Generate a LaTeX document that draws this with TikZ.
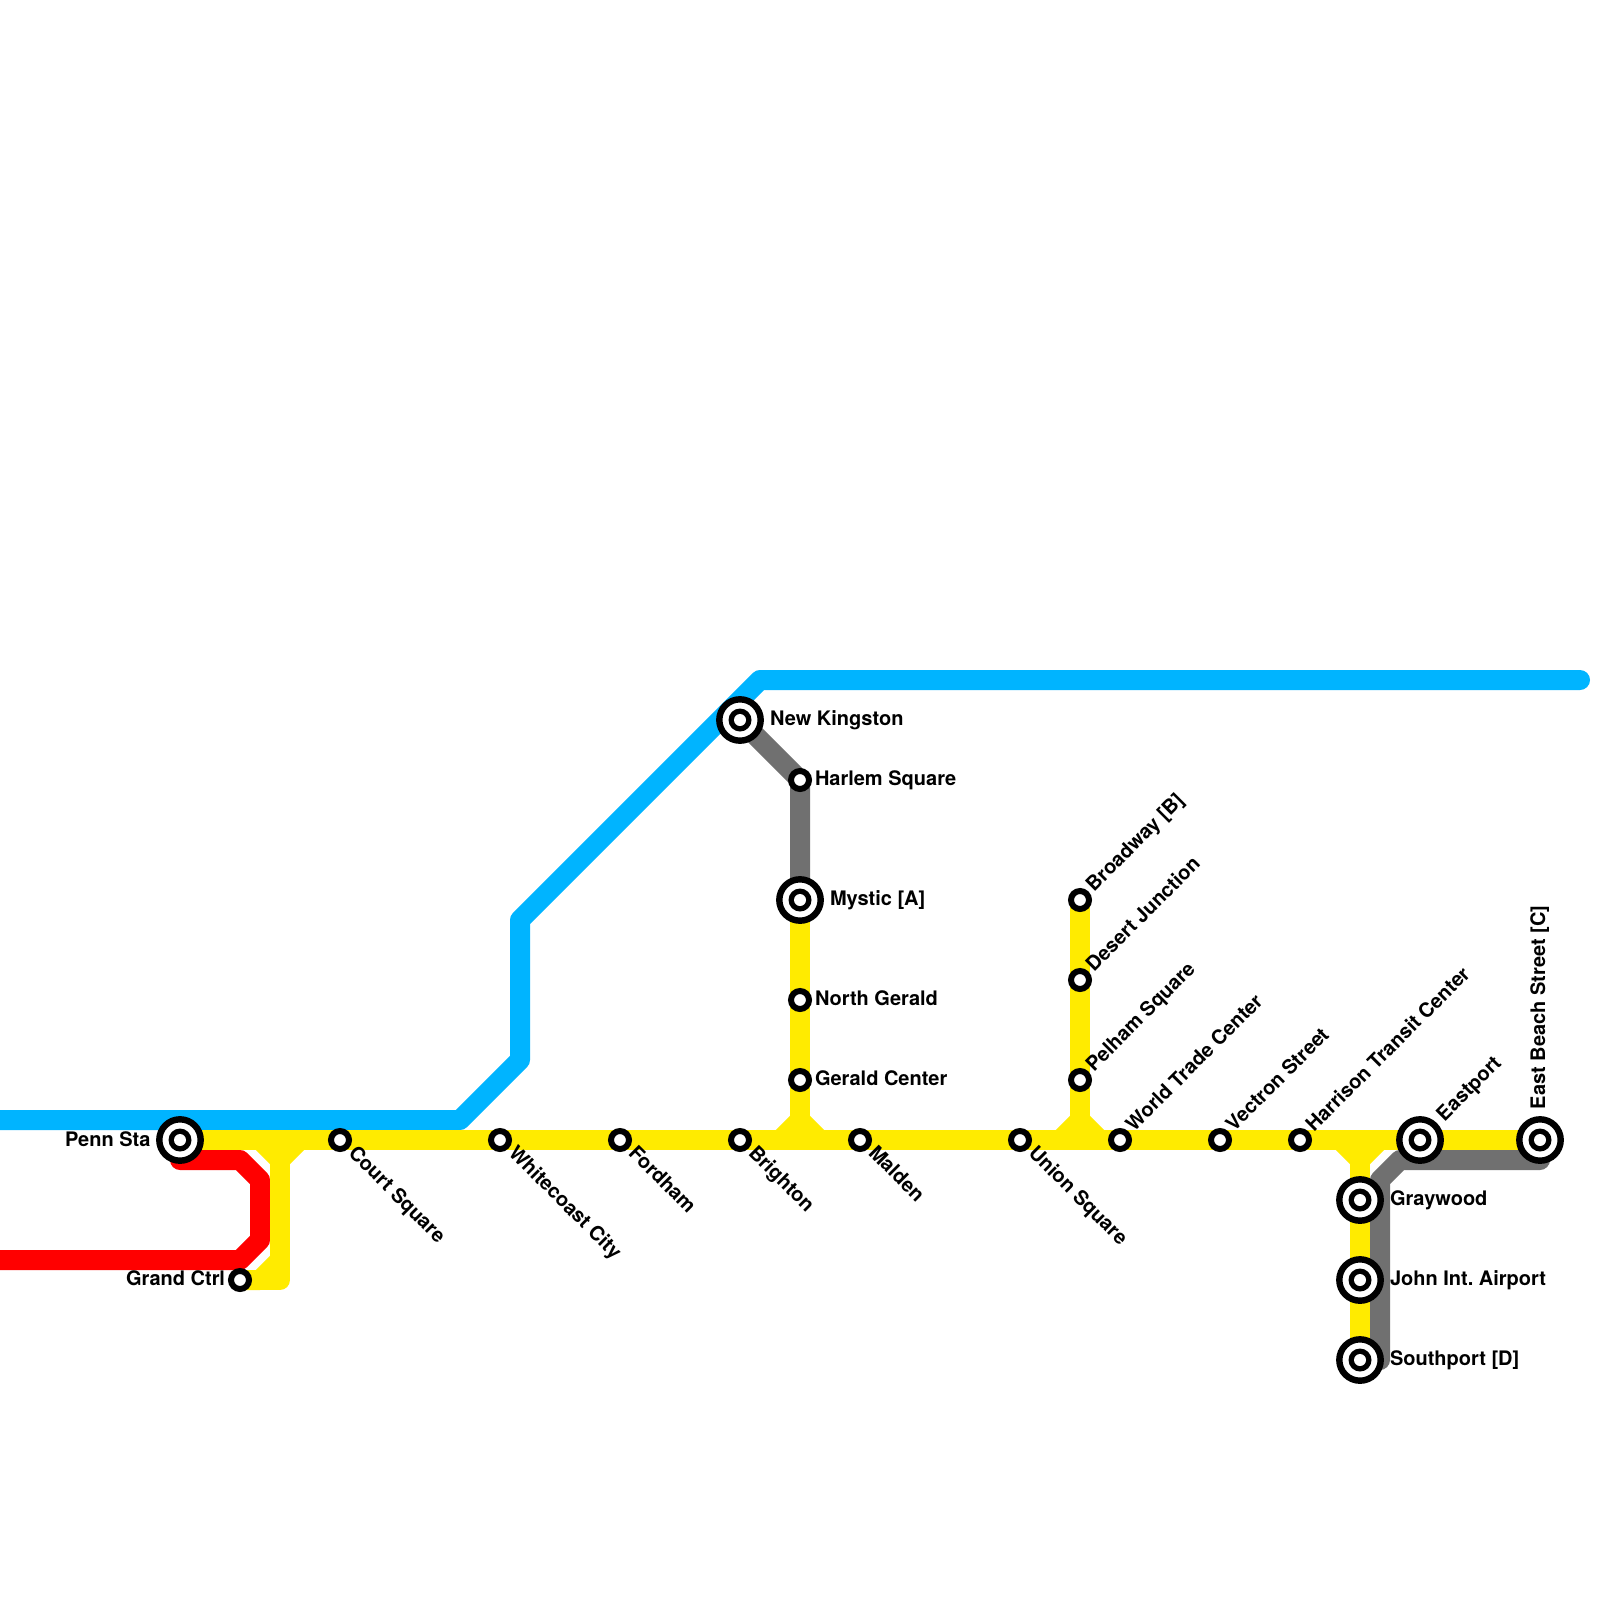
\documentclass[tikz,border=0pt]{standalone}
\usepackage{fontspec}
\setmainfont{TeX Gyre Heros}
\frenchspacing
\usetikzlibrary{backgrounds}
\definecolor{lineyellow}{HTML}{FFEB00}
\definecolor{lineblue}{HTML}{00B4FF}
\definecolor{linered}{HTML}{FF0000}
\definecolor{linegrey}{HTML}{707070}
\tikzset{
  x=1pt,y=-1pt,
  track/.style={line width=20pt,line join=round,line cap=butt},
  roundtrack/.style={track,line cap=round},
  halt/.style={circle,draw=black,fill=white,line width=6pt,minimum size=18pt,inner sep=0pt,outer sep=0pt},
  hub/.style={circle,draw=black,fill=white,line width=6.4pt,minimum size=41.4pt,inner sep=0pt,outer sep=0pt},
  lbl/.style={inner sep=0pt,outer sep=0pt,font=\fontsize{20pt}{24pt}\selectfont\bfseries},
  lblE/.style={lbl,anchor=base west},
  lblW/.style={lbl,anchor=base east},
  lblDown/.style={lbl,anchor=base west,rotate=-45},
  lblUp/.style={lbl,anchor=base west,rotate=45},
  lblV/.style={lbl,anchor=base west,rotate=90},
}
\begin{document}
\begin{tikzpicture}
\useasboundingbox (0,0) rectangle (1600,1600);
% stations
\node[hub]  (penn)   at (180,1140) {};
\node[halt] (grand)  at (240,1280) {};
\node[halt] (court)  at (340,1140) {};
\node[halt] (white)  at (500,1140) {};
\node[halt] (ford)   at (620,1140) {};
\node[halt] (brig)   at (740,1140) {};
\node[halt] (mald)   at (860,1140) {};
\node[halt] (union)  at (1020,1140) {};
\node[halt] (world)  at (1120,1140) {};
\node[halt] (vect)   at (1220,1140) {};
\node[halt] (harr)   at (1300,1140) {};
\node[hub]  (east)   at (1420,1140) {};
\node[hub]  (beach)  at (1540,1140) {};
\node[hub]  (kings)  at (740,720) {};
\node[halt] (harlem) at (800,780) {};
\node[hub]  (mystic) at (800,900) {};
\node[halt] (north)  at (800,1000) {};
\node[halt] (gerald) at (800,1080) {};
\node[halt] (broad)  at (1080,900) {};
\node[halt] (desert) at (1080,980) {};
\node[halt] (pelham) at (1080,1080) {};
\node[hub]  (gray)   at (1360,1200) {};
\node[hub]  (john)   at (1360,1280) {};
\node[hub]  (south)  at (1360,1360) {};
\foreach \h in {penn,east,beach,kings,mystic,gray,john,south}{
  \fill[black] (\h.center) circle (11.5pt);
  \fill[white] (\h.center) circle (6pt);
}
% free points of the tracks
\coordinate (b0) at (-20,1120);
\coordinate (b1) at (460,1120);
\coordinate (b2) at (520,1060);
\coordinate (b3) at (520,920);
\coordinate (b4) at (760,680);
\coordinate (b5) at (1580,680);
\coordinate (r0) at (180,1160);
\coordinate (r1) at (240,1160);
\coordinate (r2) at (260,1180);
\coordinate (r3) at (260,1240);
\coordinate (r4) at (240,1260);
\coordinate (r5) at (-20,1260);
\coordinate (g1) at (1540,1160);
\coordinate (g2) at (1400,1160);
\coordinate (g3) at (1380,1180);
\coordinate (g4) at (1380,1360);
\begin{scope}[on background layer]
  \fill[white] (0,0) rectangle (1600,1600);
  \draw[roundtrack,lineblue] (b0) -- (b1) -- (b2) -- (b3) -- (b4) -- (b5);
  \draw[roundtrack,linered] (r0) -- (r1) -- (r2) -- (r3) -- (r4) -- (r5);
  \draw[track,linegrey] (kings.center) -- (harlem.center) -- (mystic.center);
  \draw[roundtrack,linegrey] (g1) -- (g2) -- (g3) -- (g4);
  % yellow main line and branches
  \draw[track,lineyellow] (penn.center) -- (beach.center);
  \draw[track,lineyellow] (grand.center) -- (280,1280) -- (280,1160);
  \draw[track,lineyellow] (grand.center) -- (260,1280) -- (280,1260);
  \draw[track,lineyellow] (260,1140) -- (280,1160) -- (300,1140);
  \draw[track,lineyellow] (mystic.center) -- (800,1140);
  \draw[track,lineyellow] (780,1140) -- (800,1120) -- (820,1140);
  \draw[track,lineyellow] (broad.center) -- (1080,1140);
  \draw[track,lineyellow] (1060,1140) -- (1080,1120) -- (1100,1140);
  \draw[track,lineyellow] (1360,1140) -- (south.center);
  \draw[track,lineyellow] (1340,1140) -- (1360,1160) -- (1380,1140);
\end{scope}
% labels
\node[lblW] (lpenn)   at (150.5,1146) {Penn Sta};
\node[lblW] (lgrand)  at (225,1285) {Grand Ctrl};
\node[lblDown] (lcourt) at (347.5,1154.1) {Court Square};
\node[lblDown] (lwhite) at (507.5,1154.1) {Whitecoast City};
\node[lblDown] (lford)  at (627.5,1154.1) {Fordham};
\node[lblDown] (lbrig)  at (747.5,1154.1) {Brighton};
\node[lblDown] (lmald)  at (867.5,1154.1) {Malden};
\node[lblDown] (lunion) at (1027.5,1154.1) {Union Square};
\node[lblE] (lkings)  at (770,725) {New Kingston};
\node[lblE] (lharlem) at (815,785) {Harlem Square};
\node[lblE] (lmystic) at (830,905) {Mystic [A]};
\node[lblE] (lnorth)  at (815,1005) {North Gerald};
\node[lblE] (lgerald) at (815,1085) {Gerald Center};
\node[lblUp] (lbroad)  at (1094.1,892.5) {Broadway [B]};
\node[lblUp] (ldesert) at (1094.1,972.5) {Desert Junction};
\node[lblUp] (lpelham) at (1094.1,1072.5) {Pelham Square};
\node[lblUp] (lworld)  at (1134.1,1132.5) {World Trade Center};
\node[lblUp] (lvect)   at (1234.1,1132.5) {Vectron Street};
\node[lblUp] (lharr)   at (1314.1,1132.5) {Harrison Transit Center};
\node[lblUp] (least)   at (1444.7,1122) {Eastport};
\node[lblV] (lbeach)   at (1545,1109) {East Beach Street [C]};
\node[lblE] (lgray)   at (1390,1205) {Graywood};
\node[lblE] (ljohn)   at (1390,1285) {John Int. Airport};
\node[lblE] (lsouth)  at (1390,1365) {Southport [D]};
\end{tikzpicture}
\end{document}
